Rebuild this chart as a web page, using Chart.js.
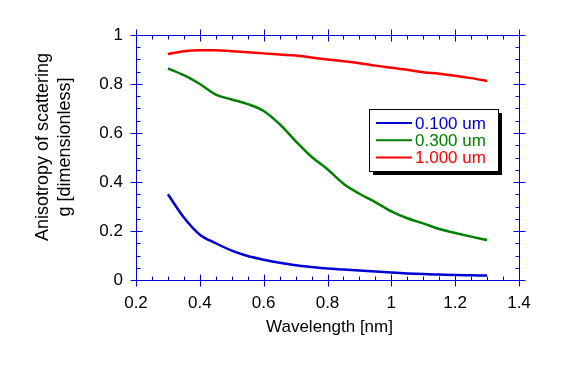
<!DOCTYPE html>
<html>
<head>
<meta charset="utf-8">
<script src="https://cdn.jsdelivr.net/npm/chart.js@4"></script>
<style>
  html, body { margin: 0; padding: 0; background: #fff; }
  canvas { display: block; }
</style>
</head>
<body>
<canvas id="graph" width="575" height="368"></canvas>
<script>
// anisotropy g vs wavelength, three particle sizes

const wavelength = [0.30, 0.35, 0.40, 0.45, 0.50, 0.55, 0.60, 0.65, 0.70, 0.75, 0.80,
                    0.85, 0.90, 0.95, 1.00, 1.05, 1.10, 1.15, 1.20, 1.25, 1.30];

const g0100 = [0.350, 0.255, 0.185, 0.150, 0.120, 0.098, 0.083, 0.070, 0.060, 0.053, 0.047,
               0.043, 0.039, 0.035, 0.031, 0.027, 0.024, 0.022, 0.020, 0.019, 0.018];
const g0300 = [0.864, 0.836, 0.800, 0.757, 0.737, 0.718, 0.690, 0.636, 0.567, 0.503, 0.452,
               0.393, 0.352, 0.318, 0.280, 0.252, 0.231, 0.208, 0.192, 0.177, 0.163];
const g1000 = [0.922, 0.934, 0.938, 0.938, 0.934, 0.930, 0.925, 0.920, 0.916, 0.908, 0.900,
               0.893, 0.885, 0.875, 0.866, 0.858, 0.848, 0.842, 0.834, 0.824, 0.812];

const seriesNames = ["0.100 um", "0.300 um", "1.000 um"];
const seriesColors = ["#0000d4", "#008000", "#ff0000"];

const xTitle = "Wavelength [nm]";
const yTitle = ["Anisotropy of scattering", "g [dimensionless]"];

const axisColor = "#0000dd";
const font = "'Liberation Sans', Arial, Helvetica, sans-serif";

function pts(ys) {
    return ys.map((y, i) => ({ x: wavelength[i], y: y }));
}

function fmt(v) {
    return String(Math.round(v * 10) / 10);
}

// frame with ticks on all four sides, minor ticks every 0.05
const framePlugin = {
    id: 'frame',
    afterDatasetsDraw(chart) {
        const ctx = chart.ctx;
        const a = chart.chartArea;
        const xs = chart.scales.x, ys = chart.scales.y;
        const L = a.left + 0.5, R = a.right + 0.5, T = a.top + 0.5, B = a.bottom + 0.5;
        ctx.save();
        ctx.strokeStyle = axisColor;
        ctx.lineWidth = 1;
        ctx.beginPath();
        ctx.rect(L, T, R - L, B - T);

        for (let v = xs.min; v <= xs.max + 1e-9; v += 0.05) {
            const px = Math.round(xs.getPixelForValue(v)) + 0.5;
            const major = Math.abs(v / 0.2 - Math.round(v / 0.2)) < 1e-6;
            if (major) {
                ctx.moveTo(px, B - 6); ctx.lineTo(px, B + 6);
                ctx.moveTo(px, T - 6); ctx.lineTo(px, T + 6);
            } else {
                ctx.moveTo(px, B - 4); ctx.lineTo(px, B);
                ctx.moveTo(px, T); ctx.lineTo(px, T + 4);
            }
        }
        for (let v = ys.min; v <= ys.max + 1e-9; v += 0.05) {
            const py = Math.round(ys.getPixelForValue(v)) + 0.5;
            const major = Math.abs(v / 0.2 - Math.round(v / 0.2)) < 1e-6;
            if (major) {
                ctx.moveTo(L - 6, py); ctx.lineTo(L + 6, py);
                ctx.moveTo(R - 6, py); ctx.lineTo(R + 6, py);
            } else {
                ctx.moveTo(L, py); ctx.lineTo(L + 4, py);
                ctx.moveTo(R - 4, py); ctx.lineTo(R, py);
            }
        }
        ctx.stroke();

        // axis titles
        ctx.fillStyle = "#000";
        ctx.font = "17px " + font;
        ctx.textAlign = "center";
        ctx.textBaseline = "alphabetic";
        ctx.fillText(xTitle, (a.left + a.right) / 2 + 2, 332);

        ctx.font = "18px " + font;
        ctx.translate(0, 147);
        ctx.rotate(-Math.PI / 2);
        ctx.textBaseline = "middle";
        ctx.fillText(yTitle[0], 0, 43);
        ctx.fillText(yTitle[1], 0, 65);
        ctx.restore();

        // legend box with drop shadow
        const bx = 369, by = 109, bw = 129, bh = 62;
        ctx.save();
        ctx.fillStyle = "#000";
        ctx.fillRect(bx + 4, by + 4, bw, bh);
        ctx.fillStyle = "#fff";
        ctx.fillRect(bx, by, bw, bh);
        ctx.strokeStyle = "#000";
        ctx.lineWidth = 1;
        ctx.strokeRect(bx + 0.5, by + 0.5, bw, bh);
        ctx.font = "17px " + font;
        ctx.textAlign = "left";
        ctx.textBaseline = "alphabetic";
        chart.data.datasets.forEach((ds, i) => {
            const ly = 123 + i * 17.3;
            ctx.strokeStyle = ds.borderColor;
            ctx.lineWidth = 2;
            ctx.beginPath();
            ctx.moveTo(376, ly);
            ctx.lineTo(412, ly);
            ctx.stroke();
            ctx.fillStyle = ds.borderColor;
            ctx.fillText(ds.label, 415, ly + 5.5);
        });
        ctx.restore();
    }
};

new Chart(document.getElementById("graph"), {
    type: 'line',
    data: {
        datasets: [
            { label: seriesNames[0], data: pts(g0100), borderColor: seriesColors[0] },
            { label: seriesNames[1], data: pts(g0300), borderColor: seriesColors[1] },
            { label: seriesNames[2], data: pts(g1000), borderColor: seriesColors[2] }
        ]
    },
    options: {
        responsive: false,
        animation: false,
        devicePixelRatio: 1,
        layout: { padding: { top: 35, right: 56, bottom: 0, left: 0 } },
        elements: {
            point: { radius: 0 },
            line: { borderWidth: 2.5, cubicInterpolationMode: 'monotone', fill: false }
        },
        plugins: {
            legend: { display: false },
            tooltip: { enabled: false }
        },
        scales: {
            x: {
                type: 'linear',
                min: 0.2,
                max: 1.4,
                grid: { display: false, drawTicks: false },
                border: { display: false },
                ticks: {
                    stepSize: 0.2,
                    padding: 13,
                    color: "#000",
                    font: { family: font, size: 17 },
                    maxRotation: 0,
                    callback: fmt
                },
                afterFit(s) { s.height = 88; }
            },
            y: {
                min: 0,
                max: 1,
                grid: { display: false, drawTicks: false },
                border: { display: false },
                ticks: {
                    stepSize: 0.2,
                    padding: 13,
                    color: "#000",
                    font: { family: font, size: 17 },
                    callback: fmt
                },
                afterFit(s) { s.width = 136; }
            }
        }
    },
    plugins: [framePlugin]
});
</script>
</body>
</html>
